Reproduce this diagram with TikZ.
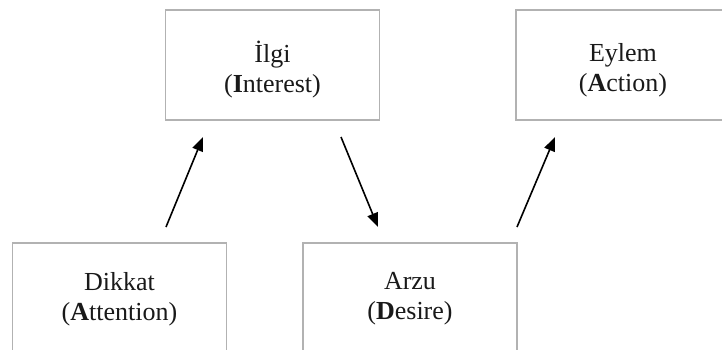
\documentclass[tikz,border=0pt]{standalone}
\usepackage{fontspec}
\setmainfont{Liberation Serif}
\usetikzlibrary{arrows.meta}
\begin{document}
\begin{tikzpicture}[x=1pt,y=-1pt,
  stagebox/.style={draw=black!30,line width=1.4pt,rectangle,minimum width=214pt,minimum height=110pt},
  stagetext/.style={align=center,inner sep=0pt,font=\fontsize{26}{30}\selectfont,text=black!90},
  flow/.style={line width=1.6pt,-{Triangle[length=14pt,width=11pt]}}]
\useasboundingbox (0,0) rectangle (722,349);
\clip (0,0) rectangle (722,349);
\node[stagebox] (ilgi) at (272.5,65) {};
\node[stagebox] (eylem) at (623,65) {};
\node[stagebox] (dikkat) at (119.5,298) {};
\node[stagebox] (arzu) at (410,298) {};
\node[stagetext] (tilgi) at ([yshift=-5pt]ilgi.center) {İlgi\\(\textbf{I}nterest)};
\node[stagetext] (teylem) at ([yshift=-5pt]eylem.center) {Eylem\\(\textbf{A}ction)};
\node[stagetext] (tdikkat) at ([yshift=-1pt]dikkat.center) {Dikkat\\(\textbf{A}ttention)};
\node[stagetext] (tarzu) at ([yshift=-1pt]arzu.center) {Arzu\\(\textbf{D}esire)};
\coordinate (a1) at (166,227);
\coordinate (b1) at (203,137);
\coordinate (a2) at (341,137);
\coordinate (b2) at (378,227);
\coordinate (a3) at (517,227);
\coordinate (b3) at (555,137);
\draw[flow] (a1) -- (b1);
\draw[flow] (a2) -- (b2);
\draw[flow] (a3) -- (b3);
\end{tikzpicture}
\end{document}
